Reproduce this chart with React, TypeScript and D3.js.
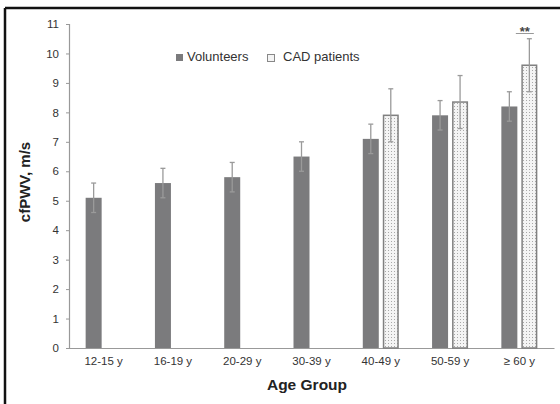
import * as d3 from "d3";
import { useEffect, useRef } from "react";

const categories = ["12-15 y", "16-19 y", "20-29 y", "30-39 y", "40-49 y", "50-59 y", "≥ 60 y"];
const volunteers = [5.1, 5.6, 5.8, 6.5, 7.1, 7.9, 8.2];
const volunteersSd = [0.5, 0.5, 0.5, 0.5, 0.5, 0.5, 0.5];
const cadPatients = [null, null, null, null, 7.9, 8.35, 9.6];
const cadSd = [null, null, null, null, 0.9, 0.9, 0.9];
const yTicks = [0, 1, 2, 3, 4, 5, 6, 7, 8, 9, 10, 11];

const W = 560;
const H = 404;

const App = () => {
  const ref = useRef<SVGSVGElement>(null);

  useEffect(() => {
    document.body.style.margin = "0";
    const svg = d3.select(ref.current);
    svg.selectAll("*").remove();

    const font = "Arial, 'Liberation Sans', Helvetica, sans-serif";
    const margin = { left: 69, right: 6, top: 24, bottom: 56 };

    const x = d3.scaleBand().domain(categories).range([margin.left, W - margin.right]).padding(0);
    const y = d3.scaleLinear().domain([0, 11]).range([H - margin.bottom, margin.top]);
    const inner = d3.scaleBand().domain(["vol", "cad"]).range([-18, 18]).paddingInner(0.2);

    const defs = svg.append("defs");
    const pat = defs
      .append("pattern")
      .attr("id", "dots")
      .attr("width", 3)
      .attr("height", 3)
      .attr("patternUnits", "userSpaceOnUse");
    pat.append("rect").attr("width", 3).attr("height", 3).attr("fill", "#f4f4f4");
    pat.append("rect").attr("x", 1).attr("y", 1).attr("width", 1).attr("height", 1).attr("fill", "#a8a8a8");

    svg.append("rect").attr("width", W).attr("height", H).attr("fill", "#fff");

    // frame (top and left edges visible)
    svg.append("line").attr("x1", 5).attr("x2", W).attr("y1", 8).attr("y2", 8).attr("stroke", "#111").attr("stroke-width", 2.5);
    svg.append("line").attr("x1", 5).attr("x2", 5).attr("y1", 8).attr("y2", H).attr("stroke", "#111").attr("stroke-width", 2.5);

    // y axis
    const yAxis = svg
      .append("g")
      .attr("transform", `translate(${margin.left},0)`)
      .call(d3.axisLeft(y).tickValues(yTicks).tickSize(3).tickPadding(7));
    yAxis.select(".domain").attr("stroke", "#999").attr("stroke-width", 1.2);
    yAxis.selectAll(".tick line").attr("stroke", "#999");
    yAxis.selectAll("text").attr("font-family", font).attr("font-size", 11.5).attr("fill", "#333");

    // x axis
    const xAxis = svg
      .append("g")
      .attr("transform", `translate(0,${y(0)})`)
      .call(d3.axisBottom(x).tickSize(0).tickPadding(9).tickSizeOuter(0));
    xAxis.select(".domain").attr("stroke", "#999").attr("stroke-width", 1.2);
    xAxis.selectAll("text").attr("font-family", font).attr("font-size", 11.5).attr("fill", "#333");

    const cx = (c: string) => (x(c) as number) + x.bandwidth() / 2;

    // volunteers bars
    svg
      .selectAll(".vol")
      .data(categories)
      .enter()
      .append("rect")
      .attr("class", "vol")
      .attr("x", (c) => cx(c) + (inner("vol") as number))
      .attr("y", (_, i) => y(volunteers[i]))
      .attr("width", inner.bandwidth())
      .attr("height", (_, i) => y(0) - y(volunteers[i]))
      .attr("fill", "#7b7b7d");

    // CAD bars
    const cadIdx = categories.map((_, i) => i).filter((i) => cadPatients[i] != null);
    svg
      .selectAll(".cad")
      .data(cadIdx)
      .enter()
      .append("rect")
      .attr("class", "cad")
      .attr("x", (i) => cx(categories[i]) + (inner("cad") as number) + 0.75)
      .attr("y", (i) => y(cadPatients[i] as number))
      .attr("width", inner.bandwidth() - 1.5)
      .attr("height", (i) => y(0) - y(cadPatients[i] as number))
      .attr("fill", "url(#dots)")
      .attr("stroke", "#808080")
      .attr("stroke-width", 1.5);

    // error bars
    const errs: { cx: number; v: number; sd: number }[] = [];
    categories.forEach((c, i) => {
      errs.push({ cx: cx(c) + (inner("vol") as number) + inner.bandwidth() / 2, v: volunteers[i], sd: volunteersSd[i] });
      if (cadPatients[i] != null) {
        errs.push({ cx: cx(c) + (inner("cad") as number) + inner.bandwidth() / 2, v: cadPatients[i] as number, sd: cadSd[i] as number });
      }
    });
    const eg = svg.append("g").attr("stroke", "#9a9a9a").attr("stroke-width", 1.3);
    errs.forEach((e) => {
      eg.append("line").attr("x1", e.cx).attr("x2", e.cx).attr("y1", y(e.v - e.sd)).attr("y2", y(e.v + e.sd));
      eg.append("line").attr("x1", e.cx - 2.5).attr("x2", e.cx + 2.5).attr("y1", y(e.v + e.sd)).attr("y2", y(e.v + e.sd));
      eg.append("line").attr("x1", e.cx - 2.5).attr("x2", e.cx + 2.5).attr("y1", y(e.v - e.sd)).attr("y2", y(e.v - e.sd));
    });

    // significance marker
    const last = categories[categories.length - 1];
    const sx = cx(last) + (inner("cad") as number) + inner.bandwidth() / 2 - 0.5;
    svg
      .append("text")
      .attr("x", sx - 4)
      .attr("y", 36)
      .attr("text-anchor", "middle")
      .attr("font-family", font)
      .attr("font-size", 13)
      .attr("font-weight", "bold")
      .attr("fill", "#444")
      .text("**");
    svg.append("line").attr("x1", sx - 13).attr("x2", sx + 5).attr("y1", 33.5).attr("y2", 33.5).attr("stroke", "#999").attr("stroke-width", 1);

    // legend
    const lg = svg.append("g").attr("font-family", font).attr("font-size", 13).attr("fill", "#333");
    lg.append("rect").attr("x", 176).attr("y", 54).attr("width", 7).attr("height", 7).attr("fill", "#7b7b7d");
    lg.append("text").attr("x", 187).attr("y", 61).text("Volunteers");
    lg.append("rect").attr("x", 267.5).attr("y", 54.5).attr("width", 7).attr("height", 7).attr("fill", "#f4f4f4").attr("stroke", "#888").attr("stroke-width", 1);
    lg.append("text").attr("x", 283).attr("y", 61).text("CAD patients");

    // axis titles
    svg
      .append("text")
      .attr("transform", `translate(30,${(y(0) + y(11)) / 2 - 4}) rotate(-90)`)
      .attr("text-anchor", "middle")
      .attr("font-family", font)
      .attr("font-size", 15)
      .attr("font-weight", "bold")
      .attr("fill", "#222")
      .text("cfPWV, m/s");
    svg
      .append("text")
      .attr("x", 307)
      .attr("y", 390)
      .attr("text-anchor", "middle")
      .attr("font-family", font)
      .attr("font-size", 15.5)
      .attr("font-weight", "bold")
      .attr("fill", "#222")
      .text("Age Group");
  }, []);

  return <svg ref={ref} width={W} height={H} style={{ display: "block" }}></svg>;
};

export default App;
